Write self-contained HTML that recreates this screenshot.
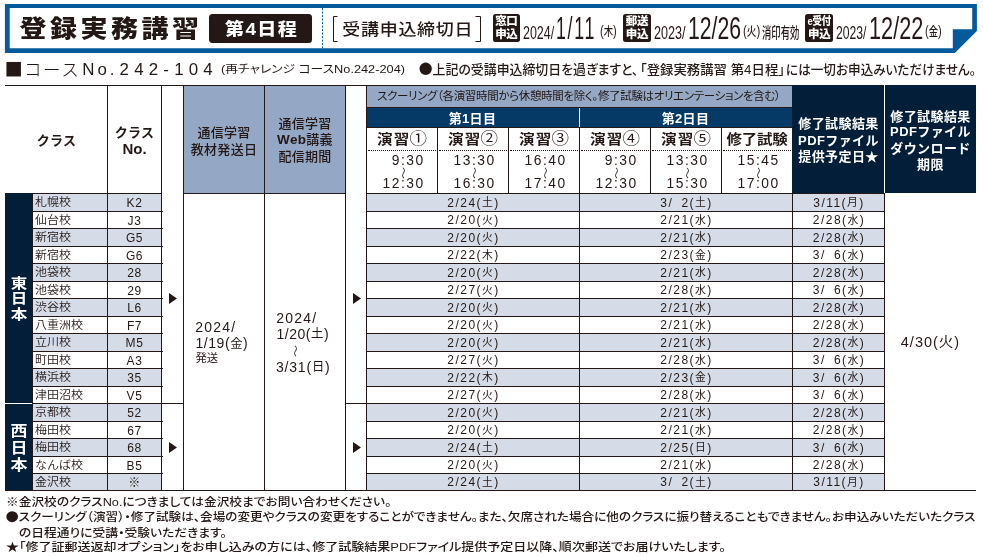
<!DOCTYPE html>
<html lang="ja"><head><meta charset="utf-8"><title>登録実務講習 第4日程</title>
<style>
*{margin:0;padding:0;box-sizing:border-box}
html,body{width:983px;height:557px;background:#fff;overflow:hidden}
body{font-family:"Liberation Sans","Noto Sans CJK JP",sans-serif;color:#231815;}
#p{position:relative;width:983px;height:557px;overflow:hidden;background:#fff}
.b{position:absolute}
.t{position:absolute;display:flex;align-items:center;justify-content:center;white-space:nowrap;text-align:center;line-height:1}
.l{justify-content:flex-start;text-align:left}
.bold{font-weight:700}
.w{color:#fff}
.t>span{display:inline-block}
.nm{font-size:12px;font-weight:350;letter-spacing:0}
.nm>span{transform:scaleY(.9)}
.en>span{transform:scaleY(.88)}
.vt>span{transform:scaleY(.86)}
.en i{font-style:normal;font-weight:400;font-size:17.5px;letter-spacing:0;margin-left:-1px}
.no{font-size:12px;letter-spacing:.6px}
.dt{font-size:12px;letter-spacing:1.45px;font-weight:300}
.dt b{font-size:10.8px;font-weight:400;position:relative;top:-.4px}
.hd{font-size:13px;font-weight:500;line-height:16.5px;white-space:normal}
.en{font-size:15.5px;font-weight:700;letter-spacing:1.3px}
.tm{font-size:13.8px;letter-spacing:1.5px}
.wave{font-size:12px;font-weight:400;display:inline-block;transform:rotate(90deg) scaleY(.8)}
.cd{display:inline-block;transform-origin:0 50%;white-space:nowrap}
.ft{font-size:12px;font-weight:400;font-feature-settings:"palt";}
svg{position:absolute;left:0;top:0}
</style></head>
<body><div id="p">
<svg width="983" height="60" viewBox="0 0 983 60">
<polygon points="4.9,4 976.9,4 976.9,31 954.8,53.1 4.9,53.1" fill="#045a9a"/>
<polygon points="9.7,8.1 972.2,8.1 972.2,29.3 952.8,29.3 952.8,48.3 9.7,48.3" fill="#fff"/>
<line x1="322.5" y1="8.1" x2="322.5" y2="48.3" stroke="#045a9a" stroke-width="1" stroke-dasharray="2,1.5"/>
<path d="M337.5,16.5 H333.5 V41.5 H337.5" fill="none" stroke="#231815" stroke-width="1"/>
<path d="M475.5,16.5 H480.5 V41.5 H475.5" fill="none" stroke="#231815" stroke-width="1"/>
</svg>
<div class="t bold l" style="left:19.5px;top:14px;width:195px;height:30px;font-size:27px;letter-spacing:3.5px;font-weight:900"><span><span style="display:inline-block;transform:scaleY(.865)">登録実務講習</span></span></div>
<div class="b" style="left:208.8px;top:13.8px;width:103.3px;height:29px;background:#231815;border-radius:3.5px"></div>
<div class="t w" style="left:209px;top:14.1px;width:103px;height:29px;font-size:18px;font-weight:900;letter-spacing:1.3px;padding-left:1.3px"><span><span style="display:inline-block;transform:scale(1.06,.92)">第4日程</span></span></div>
<div class="t l" style="left:342.3px;top:14.8px;width:130px;height:30px;font-size:18px;font-weight:500;letter-spacing:.7px"><span><span style="display:inline-block;transform:scaleY(.9)">受講申込締切日</span></span></div>
<div class="b" style="left:492.5px;top:13.9px;width:27.7px;height:28px;background:#231815;border-radius:2.5px"></div>
<div class="t w" style="left:492.5px;top:15.6px;width:27.7px;height:13px;font-size:11.5px;font-weight:900;letter-spacing:-.3px"><span>窓口</span></div>
<div class="t w" style="left:492.5px;top:28.2px;width:27.7px;height:13px;font-size:11.5px;font-weight:900;letter-spacing:-.3px"><span>申込</span></div>
<div class="t l" style="left:523.4px;top:24.69px;height:17.5px;width:31.2px;"><span class="cd" style="font-size:17.5px;font-weight:400;transform:scaleX(0.7124);">2024/</span></div>
<div class="t l" style="left:556.3px;top:12.41px;height:32px;width:40px;"><span class="cd" style="font-size:32px;font-weight:400;transform:scaleX(0.5563);letter-spacing:3px">1/11</span></div>
<div class="t l" style="left:599.8px;top:26.12px;height:12.5px;width:16.8px;"><span class="cd" style="font-size:12.5px;font-weight:500;transform:scaleX(0.7461);"><span style="font-size:15px;line-height:0;font-weight:400">(</span>木<span style="font-size:15px;line-height:0;font-weight:400">)</span></span></div>
<div class="b" style="left:622.7px;top:13.9px;width:28.5px;height:28px;background:#231815;border-radius:2.5px"></div>
<div class="t w" style="left:622.7px;top:15.6px;width:28.5px;height:13px;font-size:11.5px;font-weight:900;letter-spacing:-.3px"><span>郵送</span></div>
<div class="t w" style="left:622.7px;top:28.2px;width:28.5px;height:13px;font-size:11.5px;font-weight:900;letter-spacing:-.3px"><span>申込</span></div>
<div class="t l" style="left:654.3px;top:24.69px;height:17.5px;width:31.5px;"><span class="cd" style="font-size:17.5px;font-weight:400;transform:scaleX(0.7192);">2023/</span></div>
<div class="t l" style="left:687.8px;top:12.41px;height:32px;width:53px;"><span class="cd" style="font-size:32px;font-weight:400;transform:scaleX(0.6619);">12/26</span></div>
<div class="t l" style="left:742.8px;top:26.12px;height:12.5px;width:17.2px;"><span class="cd" style="font-size:12.5px;font-weight:500;transform:scaleX(0.7639);"><span style="font-size:15px;line-height:0;font-weight:400">(</span>火<span style="font-size:15px;line-height:0;font-weight:400">)</span></span></div>
<div class="t l" style="left:761.7px;top:24.8px;height:15px;width:37.3px;"><span class="cd" style="font-size:15px;font-weight:500;transform:scale(0.6215,1);">消印有効</span></div>
<div class="b" style="left:805.2px;top:13.9px;width:28.2px;height:28px;background:#231815;border-radius:2.5px"></div>
<div class="t w" style="left:805.2px;top:15.6px;width:28.2px;height:13px;font-size:11.5px;font-weight:900;letter-spacing:-.3px"><span style="transform:scaleX(.82)">e受付</span></div>
<div class="t w" style="left:805.2px;top:28.2px;width:28.2px;height:13px;font-size:11.5px;font-weight:900;letter-spacing:-.3px"><span>申込</span></div>
<div class="t l" style="left:836.2px;top:24.69px;height:17.5px;width:30.5px;"><span class="cd" style="font-size:17.5px;font-weight:400;transform:scaleX(0.6964);">2023/</span></div>
<div class="t l" style="left:869.2px;top:12.41px;height:32px;width:54.3px;"><span class="cd" style="font-size:32px;font-weight:400;transform:scaleX(0.6781);">12/22</span></div>
<div class="t l" style="left:925.3px;top:26.12px;height:12.5px;width:16.8px;"><span class="cd" style="font-size:12.5px;font-weight:500;transform:scaleX(0.7461);"><span style="font-size:15px;line-height:0;font-weight:400">(</span>金<span style="font-size:15px;line-height:0;font-weight:400">)</span></span></div>
<div class="t l" style="left:4.4px;top:59.6px;width:215px;height:20px;align-items:baseline;padding-top:1px"><span><span style="font-size:30px;line-height:0;letter-spacing:0;margin-right:3.1px;position:relative;top:3.3px">■</span><span style="font-size:17.5px;font-weight:300;letter-spacing:1.5px;position:relative;top:1px;margin-left:-1.5px;margin-right:1.5px">コース</span><span style="font-size:16.9px;letter-spacing:3px;margin-left:.5px">No.</span><span style="font-size:16.9px;letter-spacing:5.2px;margin-left:2px">242-104</span></span></div>
<div class="t l" style="left:220.5px;top:63.99px;height:11px;width:184px;"><span class="cd" style="font-size:11px;font-weight:400;transform:scaleX(1.1599);font-feature-settings:'palt'">(再チャレンジ コースNo.242-204)</span></div>
<div class="t l" style="left:417.4px;top:62.7px;height:13px;width:221.4px;"><span class="cd" style="font-size:13px;font-weight:500;transform:scaleX(0.9923);font-feature-settings:'palt'"><span style="font-size:29px;line-height:0;font-weight:400;position:relative;top:3.6px;margin-right:-1.8px">●</span>上記の受講申込締切日を過ぎますと、</span></div>
<div class="t l" style="left:639.5px;top:62.7px;height:13px;width:145px;"><span class="cd" style="font-size:13px;font-weight:500;transform:scaleX(1.0295);font-feature-settings:'palt'">「登録実務講習 第4日程」</span></div>
<div class="t l" style="left:785.8px;top:62.7px;height:13px;width:190px;"><span class="cd" style="font-size:13px;font-weight:500;transform:scaleX(0.9694);font-feature-settings:'palt'">には一切お申込みいただけません。</span></div>
<div class="b" style="left:183px;top:85px;width:162px;height:108px;background:#94a7c4;"></div>
<div class="b" style="left:366px;top:85px;width:426px;height:23px;background:#94a7c4;"></div>
<div class="b" style="left:366px;top:108px;width:426px;height:20px;background:#053a66;"></div>
<div class="b" style="left:792px;top:85px;width:184px;height:108px;background:#021e38;"></div>
<div class="b" style="left:884px;top:85px;width:1px;height:108px;background:#fff;"></div>
<div class="b" style="left:579px;top:108px;width:1px;height:20px;background:#fff;"></div>
<div class="b" style="left:5px;top:85px;width:787px;height:1px;background:#231815;"></div>
<div class="b" style="left:366px;top:107px;width:426px;height:1px;background:#231815;"></div>
<div class="b" style="left:366px;top:127px;width:426px;height:1px;background:#231815;"></div>
<div class="b" style="left:5px;top:193px;width:157px;height:1px;background:#231815;"></div>
<div class="b" style="left:183px;top:193px;width:163px;height:1px;background:#231815;"></div>
<div class="b" style="left:366px;top:193px;width:519px;height:1px;background:#231815;"></div>
<div class="b" style="left:107px;top:85px;width:1px;height:406px;background:#231815;"></div>
<div class="b" style="left:161px;top:85px;width:1px;height:406px;background:#231815;"></div>
<div class="b" style="left:183px;top:85px;width:1px;height:406px;background:#231815;"></div>
<div class="b" style="left:264px;top:85px;width:1px;height:406px;background:#231815;"></div>
<div class="b" style="left:345px;top:85px;width:1px;height:406px;background:#231815;"></div>
<div class="b" style="left:366px;top:85px;width:1px;height:406px;background:#231815;"></div>
<div class="b" style="left:32px;top:193px;width:1px;height:298px;background:#231815;"></div>
<div class="b" style="left:437px;top:128px;width:1px;height:65px;background:#231815;"></div>
<div class="b" style="left:508px;top:128px;width:1px;height:65px;background:#231815;"></div>
<div class="b" style="left:650px;top:128px;width:1px;height:65px;background:#231815;"></div>
<div class="b" style="left:721px;top:128px;width:1px;height:65px;background:#231815;"></div>
<div class="b" style="left:579px;top:128px;width:1px;height:363px;background:#231815;"></div>
<div class="b" style="left:792px;top:193px;width:1px;height:298px;background:#231815;"></div>
<div class="b" style="left:884px;top:193px;width:1px;height:298px;background:#231815;"></div>
<div class="b" style="left:368px;top:150px;width:68px;height:0;border-top:1px dotted #231815"></div>
<div class="b" style="left:439px;top:150px;width:68px;height:0;border-top:1px dotted #231815"></div>
<div class="b" style="left:510px;top:150px;width:68px;height:0;border-top:1px dotted #231815"></div>
<div class="b" style="left:581px;top:150px;width:68px;height:0;border-top:1px dotted #231815"></div>
<div class="b" style="left:652px;top:150px;width:68px;height:0;border-top:1px dotted #231815"></div>
<div class="b" style="left:723px;top:150px;width:68px;height:0;border-top:1px dotted #231815"></div>
<div class="t bold" style="left:5px;top:131px;width:103px;height:18px;font-size:13px;letter-spacing:.2px"><span>クラス</span></div>
<div class="t bold" style="left:108px;top:124px;width:53px;height:17px;font-size:13px;letter-spacing:.2px"><span>クラス</span></div>
<div class="t bold" style="left:108px;top:140px;width:53px;height:17px;font-size:15px"><span>No.</span></div>
<div class="t " style="left:184px;top:124px;width:80px;height:17px;font-size:13px;font-weight:500;letter-spacing:.3px"><span>通信学習</span></div>
<div class="t " style="left:184px;top:140.5px;width:80px;height:17px;font-size:13px;font-weight:500;letter-spacing:.3px"><span>教材発送日</span></div>
<div class="t " style="left:265px;top:114.5px;width:80px;height:17px;font-size:13px;font-weight:500;letter-spacing:.3px"><span>通信学習</span></div>
<div class="t " style="left:265px;top:131.5px;width:80px;height:17px;font-size:13px;font-weight:500;letter-spacing:.3px"><span><span style="font-weight:700;font-size:13.5px">Web</span>講義</span></div>
<div class="t " style="left:265px;top:148px;width:80px;height:17px;font-size:13px;font-weight:500;letter-spacing:.3px"><span>配信期間</span></div>
<div class="t l" style="left:377px;top:86px;width:420px;height:21px;font-size:11.5px;font-weight:400;font-feature-settings:'palt';letter-spacing:-.33px"><span>スクーリング（各演習時間から休憩時間を除く。修了試験はオリエンテーションを含む）</span></div>
<div class="t w bold" style="left:366px;top:108px;width:213px;height:20px;font-size:13px;letter-spacing:.3px"><span>第1日目</span></div>
<div class="t w bold" style="left:579px;top:108px;width:213px;height:20px;font-size:13px;letter-spacing:.3px"><span>第2日目</span></div>
<div class="t en" style="left:366px;top:129px;width:72px;height:21px;"><span>演習<i>①</i></span></div>
<div class="t tm" style="left:367px;top:153px;width:57.6px;height:15px;justify-content:flex-end"><span>9:30</span></div>
<div class="t tm" style="left:367px;top:176.5px;width:57.6px;height:15px;justify-content:flex-end"><span>12:30</span></div>
<div class="t " style="left:396.7px;top:165.7px;width:12px;height:12px;"><span><span class="wave">〜</span></span></div>
<div class="t en" style="left:437px;top:129px;width:72px;height:21px;"><span>演習<i>②</i></span></div>
<div class="t tm" style="left:438px;top:153px;width:57.6px;height:15px;justify-content:flex-end"><span>13:30</span></div>
<div class="t tm" style="left:438px;top:176.5px;width:57.6px;height:15px;justify-content:flex-end"><span>16:30</span></div>
<div class="t " style="left:467.7px;top:165.7px;width:12px;height:12px;"><span><span class="wave">〜</span></span></div>
<div class="t en" style="left:508px;top:129px;width:72px;height:21px;"><span>演習<i>③</i></span></div>
<div class="t tm" style="left:509px;top:153px;width:57.6px;height:15px;justify-content:flex-end"><span>16:40</span></div>
<div class="t tm" style="left:509px;top:176.5px;width:57.6px;height:15px;justify-content:flex-end"><span>17:40</span></div>
<div class="t " style="left:538.7px;top:165.7px;width:12px;height:12px;"><span><span class="wave">〜</span></span></div>
<div class="t en" style="left:579px;top:129px;width:72px;height:21px;"><span>演習<i>④</i></span></div>
<div class="t tm" style="left:580px;top:153px;width:57.6px;height:15px;justify-content:flex-end"><span>9:30</span></div>
<div class="t tm" style="left:580px;top:176.5px;width:57.6px;height:15px;justify-content:flex-end"><span>12:30</span></div>
<div class="t " style="left:609.7px;top:165.7px;width:12px;height:12px;"><span><span class="wave">〜</span></span></div>
<div class="t en" style="left:650px;top:129px;width:72px;height:21px;"><span>演習<i>⑤</i></span></div>
<div class="t tm" style="left:651px;top:153px;width:57.6px;height:15px;justify-content:flex-end"><span>13:30</span></div>
<div class="t tm" style="left:651px;top:176.5px;width:57.6px;height:15px;justify-content:flex-end"><span>15:30</span></div>
<div class="t " style="left:680.7px;top:165.7px;width:12px;height:12px;"><span><span class="wave">〜</span></span></div>
<div class="t en" style="left:721px;top:129px;width:72px;height:21px;letter-spacing:-.3px"><span>修了試験</span></div>
<div class="t tm" style="left:722px;top:153px;width:57.6px;height:15px;justify-content:flex-end"><span>15:45</span></div>
<div class="t tm" style="left:722px;top:176.5px;width:57.6px;height:15px;justify-content:flex-end"><span>17:00</span></div>
<div class="t " style="left:751.7px;top:165.7px;width:12px;height:12px;"><span><span class="wave">〜</span></span></div>
<div class="t w bold" style="left:793px;top:114.8px;width:91px;height:18px;font-size:13px;letter-spacing:.4px"><span>修了試験結果</span></div>
<div class="t w bold" style="left:793px;top:131px;width:91px;height:18px;font-size:13px;letter-spacing:.4px"><span>PDFファイル</span></div>
<div class="t w bold" style="left:793px;top:147.3px;width:91px;height:18px;font-size:13px;letter-spacing:.4px"><span>提供予定日★</span></div>
<div class="t w bold" style="left:885px;top:107px;width:91px;height:18px;font-size:13px;letter-spacing:.4px"><span>修了試験結果</span></div>
<div class="t w bold" style="left:885px;top:122.80000000000001px;width:91px;height:18px;font-size:13px;letter-spacing:.4px"><span>PDFファイル</span></div>
<div class="t w bold" style="left:885px;top:139.2px;width:91px;height:18px;font-size:13px;letter-spacing:.4px"><span>ダウンロード</span></div>
<div class="t w bold" style="left:885px;top:155.4px;width:91px;height:18px;font-size:13px;letter-spacing:.4px"><span>期限</span></div>
<div class="b" style="left:5px;top:193px;width:27px;height:298px;background:#021e38;"></div>
<div class="b" style="left:5px;top:403px;width:27px;height:1px;background:#fff;"></div>
<div class="b" style="left:32px;top:193px;width:130px;height:18px;background:#d5dce8;"></div>
<div class="b" style="left:366px;top:193px;width:519px;height:18px;background:#d5dce8;"></div>
<div class="b" style="left:32px;top:228px;width:130px;height:18px;background:#d5dce8;"></div>
<div class="b" style="left:366px;top:228px;width:519px;height:18px;background:#d5dce8;"></div>
<div class="b" style="left:32px;top:263px;width:130px;height:18px;background:#d5dce8;"></div>
<div class="b" style="left:366px;top:263px;width:519px;height:18px;background:#d5dce8;"></div>
<div class="b" style="left:32px;top:298px;width:130px;height:18px;background:#d5dce8;"></div>
<div class="b" style="left:366px;top:298px;width:519px;height:18px;background:#d5dce8;"></div>
<div class="b" style="left:32px;top:333px;width:130px;height:18px;background:#d5dce8;"></div>
<div class="b" style="left:366px;top:333px;width:519px;height:18px;background:#d5dce8;"></div>
<div class="b" style="left:32px;top:368px;width:130px;height:18px;background:#d5dce8;"></div>
<div class="b" style="left:366px;top:368px;width:519px;height:18px;background:#d5dce8;"></div>
<div class="b" style="left:32px;top:403px;width:130px;height:18px;background:#d5dce8;"></div>
<div class="b" style="left:366px;top:403px;width:519px;height:18px;background:#d5dce8;"></div>
<div class="b" style="left:32px;top:438px;width:130px;height:18px;background:#d5dce8;"></div>
<div class="b" style="left:366px;top:438px;width:519px;height:18px;background:#d5dce8;"></div>
<div class="b" style="left:32px;top:473px;width:130px;height:17px;background:#d5dce8;"></div>
<div class="b" style="left:366px;top:473px;width:519px;height:17px;background:#d5dce8;"></div>
<div class="b" style="left:32px;top:211px;width:131px;height:1px;background:#231815;"></div>
<div class="b" style="left:366px;top:211px;width:519px;height:1px;background:#231815;"></div>
<div class="b" style="left:32px;top:228px;width:131px;height:1px;background:#231815;"></div>
<div class="b" style="left:366px;top:228px;width:519px;height:1px;background:#231815;"></div>
<div class="b" style="left:32px;top:246px;width:131px;height:1px;background:#231815;"></div>
<div class="b" style="left:366px;top:246px;width:519px;height:1px;background:#231815;"></div>
<div class="b" style="left:32px;top:263px;width:131px;height:1px;background:#231815;"></div>
<div class="b" style="left:366px;top:263px;width:519px;height:1px;background:#231815;"></div>
<div class="b" style="left:32px;top:281px;width:131px;height:1px;background:#231815;"></div>
<div class="b" style="left:366px;top:281px;width:519px;height:1px;background:#231815;"></div>
<div class="b" style="left:32px;top:298px;width:131px;height:1px;background:#231815;"></div>
<div class="b" style="left:366px;top:298px;width:519px;height:1px;background:#231815;"></div>
<div class="b" style="left:32px;top:316px;width:131px;height:1px;background:#231815;"></div>
<div class="b" style="left:366px;top:316px;width:519px;height:1px;background:#231815;"></div>
<div class="b" style="left:32px;top:333px;width:131px;height:1px;background:#231815;"></div>
<div class="b" style="left:366px;top:333px;width:519px;height:1px;background:#231815;"></div>
<div class="b" style="left:32px;top:351px;width:131px;height:1px;background:#231815;"></div>
<div class="b" style="left:366px;top:351px;width:519px;height:1px;background:#231815;"></div>
<div class="b" style="left:32px;top:368px;width:131px;height:1px;background:#231815;"></div>
<div class="b" style="left:366px;top:368px;width:519px;height:1px;background:#231815;"></div>
<div class="b" style="left:32px;top:386px;width:131px;height:1px;background:#231815;"></div>
<div class="b" style="left:366px;top:386px;width:519px;height:1px;background:#231815;"></div>
<div class="b" style="left:32px;top:403px;width:131px;height:1px;background:#231815;"></div>
<div class="b" style="left:366px;top:403px;width:519px;height:1px;background:#231815;"></div>
<div class="b" style="left:32px;top:421px;width:131px;height:1px;background:#231815;"></div>
<div class="b" style="left:366px;top:421px;width:519px;height:1px;background:#231815;"></div>
<div class="b" style="left:32px;top:438px;width:131px;height:1px;background:#231815;"></div>
<div class="b" style="left:366px;top:438px;width:519px;height:1px;background:#231815;"></div>
<div class="b" style="left:32px;top:456px;width:131px;height:1px;background:#231815;"></div>
<div class="b" style="left:366px;top:456px;width:519px;height:1px;background:#231815;"></div>
<div class="b" style="left:32px;top:473px;width:131px;height:1px;background:#231815;"></div>
<div class="b" style="left:366px;top:473px;width:519px;height:1px;background:#231815;"></div>
<div class="b" style="left:161px;top:403px;width:23px;height:1px;background:#231815;"></div>
<div class="b" style="left:345px;top:403px;width:22px;height:1px;background:#231815;"></div>
<div class="b" style="left:32px;top:193px;width:130px;height:1px;background:#231815;"></div>
<div class="b" style="left:366px;top:193px;width:519px;height:1px;background:#231815;"></div>
<div class="b" style="left:5px;top:490px;width:971px;height:1px;background:#231815;"></div>
<div class="b" style="left:32px;top:193px;width:1px;height:298px;background:#231815;"></div>
<div class="b" style="left:107px;top:193px;width:1px;height:298px;background:#231815;"></div>
<div class="b" style="left:161px;top:193px;width:1px;height:298px;background:#231815;"></div>
<div class="b" style="left:366px;top:193px;width:1px;height:298px;background:#231815;"></div>
<div class="b" style="left:579px;top:193px;width:1px;height:298px;background:#231815;"></div>
<div class="b" style="left:792px;top:193px;width:1px;height:298px;background:#231815;"></div>
<div class="b" style="left:884px;top:193px;width:1px;height:298px;background:#231815;"></div>
<div class="t nm l" style="left:35px;top:193px;width:72px;height:18px;"><span>札幌校</span></div>
<div class="t no" style="left:108px;top:194px;width:53px;height:18px;"><span>K2</span></div>
<div class="t dt" style="left:367.5px;top:193.7px;width:212px;height:18px;"><span>2/24(<b>土</b>)</span></div>
<div class="t dt" style="left:580.5px;top:193.7px;width:212px;height:18px;"><span>3/&#8199;2(<b>土</b>)</span></div>
<div class="t dt" style="left:793.5px;top:193.7px;width:91px;height:18px;"><span>3/11(<b>月</b>)</span></div>
<div class="t nm l" style="left:35px;top:211px;width:72px;height:17px;"><span>仙台校</span></div>
<div class="t no" style="left:108px;top:212px;width:53px;height:17px;"><span>J3</span></div>
<div class="t dt" style="left:367.5px;top:211.7px;width:212px;height:17px;"><span>2/20(<b>火</b>)</span></div>
<div class="t dt" style="left:580.5px;top:211.7px;width:212px;height:17px;"><span>2/21(<b>水</b>)</span></div>
<div class="t dt" style="left:793.5px;top:211.7px;width:91px;height:17px;"><span>2/28(<b>水</b>)</span></div>
<div class="t nm l" style="left:35px;top:228px;width:72px;height:18px;"><span>新宿校</span></div>
<div class="t no" style="left:108px;top:229px;width:53px;height:18px;"><span>G5</span></div>
<div class="t dt" style="left:367.5px;top:228.7px;width:212px;height:18px;"><span>2/20(<b>火</b>)</span></div>
<div class="t dt" style="left:580.5px;top:228.7px;width:212px;height:18px;"><span>2/21(<b>水</b>)</span></div>
<div class="t dt" style="left:793.5px;top:228.7px;width:91px;height:18px;"><span>2/28(<b>水</b>)</span></div>
<div class="t nm l" style="left:35px;top:246px;width:72px;height:17px;"><span>新宿校</span></div>
<div class="t no" style="left:108px;top:247px;width:53px;height:17px;"><span>G6</span></div>
<div class="t dt" style="left:367.5px;top:246.7px;width:212px;height:17px;"><span>2/22(<b>木</b>)</span></div>
<div class="t dt" style="left:580.5px;top:246.7px;width:212px;height:17px;"><span>2/23(<b>金</b>)</span></div>
<div class="t dt" style="left:793.5px;top:246.7px;width:91px;height:17px;"><span>3/&#8199;6(<b>水</b>)</span></div>
<div class="t nm l" style="left:35px;top:263px;width:72px;height:18px;"><span>池袋校</span></div>
<div class="t no" style="left:108px;top:264px;width:53px;height:18px;"><span>28</span></div>
<div class="t dt" style="left:367.5px;top:263.7px;width:212px;height:18px;"><span>2/20(<b>火</b>)</span></div>
<div class="t dt" style="left:580.5px;top:263.7px;width:212px;height:18px;"><span>2/21(<b>水</b>)</span></div>
<div class="t dt" style="left:793.5px;top:263.7px;width:91px;height:18px;"><span>2/28(<b>水</b>)</span></div>
<div class="t nm l" style="left:35px;top:281px;width:72px;height:17px;"><span>池袋校</span></div>
<div class="t no" style="left:108px;top:282px;width:53px;height:17px;"><span>29</span></div>
<div class="t dt" style="left:367.5px;top:281.7px;width:212px;height:17px;"><span>2/27(<b>火</b>)</span></div>
<div class="t dt" style="left:580.5px;top:281.7px;width:212px;height:17px;"><span>2/28(<b>水</b>)</span></div>
<div class="t dt" style="left:793.5px;top:281.7px;width:91px;height:17px;"><span>3/&#8199;6(<b>水</b>)</span></div>
<div class="t nm l" style="left:35px;top:298px;width:72px;height:18px;"><span>渋谷校</span></div>
<div class="t no" style="left:108px;top:299px;width:53px;height:18px;"><span>L6</span></div>
<div class="t dt" style="left:367.5px;top:298.7px;width:212px;height:18px;"><span>2/20(<b>火</b>)</span></div>
<div class="t dt" style="left:580.5px;top:298.7px;width:212px;height:18px;"><span>2/21(<b>水</b>)</span></div>
<div class="t dt" style="left:793.5px;top:298.7px;width:91px;height:18px;"><span>2/28(<b>水</b>)</span></div>
<div class="t nm l" style="left:35px;top:316px;width:72px;height:17px;"><span>八重洲校</span></div>
<div class="t no" style="left:108px;top:317px;width:53px;height:17px;"><span>F7</span></div>
<div class="t dt" style="left:367.5px;top:316.7px;width:212px;height:17px;"><span>2/20(<b>火</b>)</span></div>
<div class="t dt" style="left:580.5px;top:316.7px;width:212px;height:17px;"><span>2/21(<b>水</b>)</span></div>
<div class="t dt" style="left:793.5px;top:316.7px;width:91px;height:17px;"><span>2/28(<b>水</b>)</span></div>
<div class="t nm l" style="left:35px;top:333px;width:72px;height:18px;"><span>立川校</span></div>
<div class="t no" style="left:108px;top:334px;width:53px;height:18px;"><span>M5</span></div>
<div class="t dt" style="left:367.5px;top:333.7px;width:212px;height:18px;"><span>2/20(<b>火</b>)</span></div>
<div class="t dt" style="left:580.5px;top:333.7px;width:212px;height:18px;"><span>2/21(<b>水</b>)</span></div>
<div class="t dt" style="left:793.5px;top:333.7px;width:91px;height:18px;"><span>2/28(<b>水</b>)</span></div>
<div class="t nm l" style="left:35px;top:351px;width:72px;height:17px;"><span>町田校</span></div>
<div class="t no" style="left:108px;top:352px;width:53px;height:17px;"><span>A3</span></div>
<div class="t dt" style="left:367.5px;top:351.7px;width:212px;height:17px;"><span>2/27(<b>火</b>)</span></div>
<div class="t dt" style="left:580.5px;top:351.7px;width:212px;height:17px;"><span>2/28(<b>水</b>)</span></div>
<div class="t dt" style="left:793.5px;top:351.7px;width:91px;height:17px;"><span>3/&#8199;6(<b>水</b>)</span></div>
<div class="t nm l" style="left:35px;top:368px;width:72px;height:18px;"><span>横浜校</span></div>
<div class="t no" style="left:108px;top:369px;width:53px;height:18px;"><span>35</span></div>
<div class="t dt" style="left:367.5px;top:368.7px;width:212px;height:18px;"><span>2/22(<b>木</b>)</span></div>
<div class="t dt" style="left:580.5px;top:368.7px;width:212px;height:18px;"><span>2/23(<b>金</b>)</span></div>
<div class="t dt" style="left:793.5px;top:368.7px;width:91px;height:18px;"><span>3/&#8199;6(<b>水</b>)</span></div>
<div class="t nm l" style="left:35px;top:386px;width:72px;height:17px;"><span>津田沼校</span></div>
<div class="t no" style="left:108px;top:387px;width:53px;height:17px;"><span>V5</span></div>
<div class="t dt" style="left:367.5px;top:386.7px;width:212px;height:17px;"><span>2/27(<b>火</b>)</span></div>
<div class="t dt" style="left:580.5px;top:386.7px;width:212px;height:17px;"><span>2/28(<b>水</b>)</span></div>
<div class="t dt" style="left:793.5px;top:386.7px;width:91px;height:17px;"><span>3/&#8199;6(<b>水</b>)</span></div>
<div class="t nm l" style="left:35px;top:403px;width:72px;height:18px;"><span>京都校</span></div>
<div class="t no" style="left:108px;top:404px;width:53px;height:18px;"><span>52</span></div>
<div class="t dt" style="left:367.5px;top:403.7px;width:212px;height:18px;"><span>2/20(<b>火</b>)</span></div>
<div class="t dt" style="left:580.5px;top:403.7px;width:212px;height:18px;"><span>2/21(<b>水</b>)</span></div>
<div class="t dt" style="left:793.5px;top:403.7px;width:91px;height:18px;"><span>2/28(<b>水</b>)</span></div>
<div class="t nm l" style="left:35px;top:421px;width:72px;height:17px;"><span>梅田校</span></div>
<div class="t no" style="left:108px;top:422px;width:53px;height:17px;"><span>67</span></div>
<div class="t dt" style="left:367.5px;top:421.7px;width:212px;height:17px;"><span>2/20(<b>火</b>)</span></div>
<div class="t dt" style="left:580.5px;top:421.7px;width:212px;height:17px;"><span>2/21(<b>水</b>)</span></div>
<div class="t dt" style="left:793.5px;top:421.7px;width:91px;height:17px;"><span>2/28(<b>水</b>)</span></div>
<div class="t nm l" style="left:35px;top:438px;width:72px;height:18px;"><span>梅田校</span></div>
<div class="t no" style="left:108px;top:439px;width:53px;height:18px;"><span>68</span></div>
<div class="t dt" style="left:367.5px;top:438.7px;width:212px;height:18px;"><span>2/24(<b>土</b>)</span></div>
<div class="t dt" style="left:580.5px;top:438.7px;width:212px;height:18px;"><span>2/25(<b>日</b>)</span></div>
<div class="t dt" style="left:793.5px;top:438.7px;width:91px;height:18px;"><span>3/&#8199;6(<b>水</b>)</span></div>
<div class="t nm l" style="left:35px;top:456px;width:72px;height:17px;"><span>なんば校</span></div>
<div class="t no" style="left:108px;top:457px;width:53px;height:17px;"><span>B5</span></div>
<div class="t dt" style="left:367.5px;top:456.7px;width:212px;height:17px;"><span>2/20(<b>火</b>)</span></div>
<div class="t dt" style="left:580.5px;top:456.7px;width:212px;height:17px;"><span>2/21(<b>水</b>)</span></div>
<div class="t dt" style="left:793.5px;top:456.7px;width:91px;height:17px;"><span>2/28(<b>水</b>)</span></div>
<div class="t nm l" style="left:35px;top:473px;width:72px;height:17px;"><span>金沢校</span></div>
<div class="t no" style="left:108px;top:474px;width:53px;height:17px;"><span>※</span></div>
<div class="t dt" style="left:367.5px;top:473.7px;width:212px;height:17px;"><span>2/24(<b>土</b>)</span></div>
<div class="t dt" style="left:580.5px;top:473.7px;width:212px;height:17px;"><span>3/&#8199;2(<b>土</b>)</span></div>
<div class="t dt" style="left:793.5px;top:473.7px;width:91px;height:17px;"><span>3/11(<b>月</b>)</span></div>
<div class="t " style="left:885px;top:332.5px;width:91px;height:20px;font-size:14.5px;letter-spacing:1px"><span>4/30(火)</span></div>
<div class="t w bold vt" style="left:5px;top:274.5px;width:28px;height:18px;font-size:16.5px"><span>東</span></div>
<div class="t w bold vt" style="left:5px;top:289.5px;width:28px;height:18px;font-size:16.5px"><span>日</span></div>
<div class="t w bold vt" style="left:5px;top:305px;width:28px;height:18px;font-size:16.5px"><span>本</span></div>
<div class="t w bold vt" style="left:5px;top:422.7px;width:28px;height:18px;font-size:17px"><span>西</span></div>
<div class="t w bold vt" style="left:5px;top:439.3px;width:28px;height:18px;font-size:17px"><span>日</span></div>
<div class="t w bold vt" style="left:5px;top:456px;width:28px;height:18px;font-size:17px"><span>本</span></div>
<svg style="left:169px;top:292.5px" width="8" height="11" viewBox="0 0 8 11"><polygon points="0,0 8,5.5 0,11" fill="#231815"/></svg>
<svg style="left:353px;top:292.5px" width="8" height="11" viewBox="0 0 8 11"><polygon points="0,0 8,5.5 0,11" fill="#231815"/></svg>
<svg style="left:169px;top:441.7px" width="8" height="11" viewBox="0 0 8 11"><polygon points="0,0 8,5.5 0,11" fill="#231815"/></svg>
<svg style="left:353px;top:441.7px" width="8" height="11" viewBox="0 0 8 11"><polygon points="0,0 8,5.5 0,11" fill="#231815"/></svg>
<div class="t l" style="left:195.2px;top:319px;width:70px;height:16px;font-size:14px;letter-spacing:1.2px"><span>2024/</span></div>
<div class="t l" style="left:195.5px;top:335.5px;width:70px;height:16px;font-size:14px;letter-spacing:.55px"><span>1/19(<b style="font-size:12.3px;font-weight:400;position:relative;top:-.5px">金</b>)</span></div>
<div class="t l" style="left:195.5px;top:351px;width:70px;height:16px;font-size:11.3px;font-weight:400"><span>発送</span></div>
<div class="t l" style="left:276.2px;top:309.7px;width:70px;height:16px;font-size:14px;letter-spacing:1.2px"><span>2024/</span></div>
<div class="t l" style="left:276.4px;top:326px;width:70px;height:16px;font-size:14px;letter-spacing:.55px"><span>1/20(<b style="font-size:12.3px;font-weight:400;position:relative;top:-.5px">土</b>)</span></div>
<div class="t " style="left:289px;top:344px;width:12px;height:12px;"><span><span class="wave">〜</span></span></div>
<div class="t l" style="left:276px;top:359px;width:70px;height:16px;font-size:14px;letter-spacing:.8px"><span>3/31(<b style="font-size:12.3px;font-weight:400;position:relative;top:-.5px">日</b>)</span></div>
<div class="t l" style="left:6.3px;top:496.25px;height:13.5px;width:385.4px;"><span class="cd" style="font-size:13.5px;font-weight:500;transform:scale(0.9413,0.87);font-feature-settings:'palt'">※金沢校のクラスNo.につきましては金沢校までお問い合わせください。</span></div>
<div class="t l" style="left:3.9px;top:511.35px;height:13.5px;width:971.5px;"><span class="cd" style="font-size:13.5px;font-weight:500;transform:scale(0.9335,0.87);font-feature-settings:'palt'"><span style="font-size:29px;line-height:0;font-weight:400;position:relative;top:3.4px;margin-right:-1.8px">●</span>スクーリング（演習）・修了試験は、会場の変更やクラスの変更をすることができません。また、欠席された場合に他のクラスに振り替えることもできません。お申込みいただいたクラス</span></div>
<div class="t l" style="left:18.5px;top:526.55px;height:13.5px;width:207.8px;"><span class="cd" style="font-size:13.5px;font-weight:500;transform:scale(0.946,0.87);font-feature-settings:'palt'">の日程通りに受講・受験いただきます。</span></div>
<div class="t l" style="left:5.8px;top:540.55px;height:13.5px;width:719.8000000000001px;"><span class="cd" style="font-size:13.5px;font-weight:500;transform:scale(0.9638,0.87);font-feature-settings:'palt'">★「修了証郵送返却オプション」をお申し込みの方には、修了試験結果PDFファイル提供予定日以降、順次郵送でお届けいたします。</span></div>
</div></body></html>
